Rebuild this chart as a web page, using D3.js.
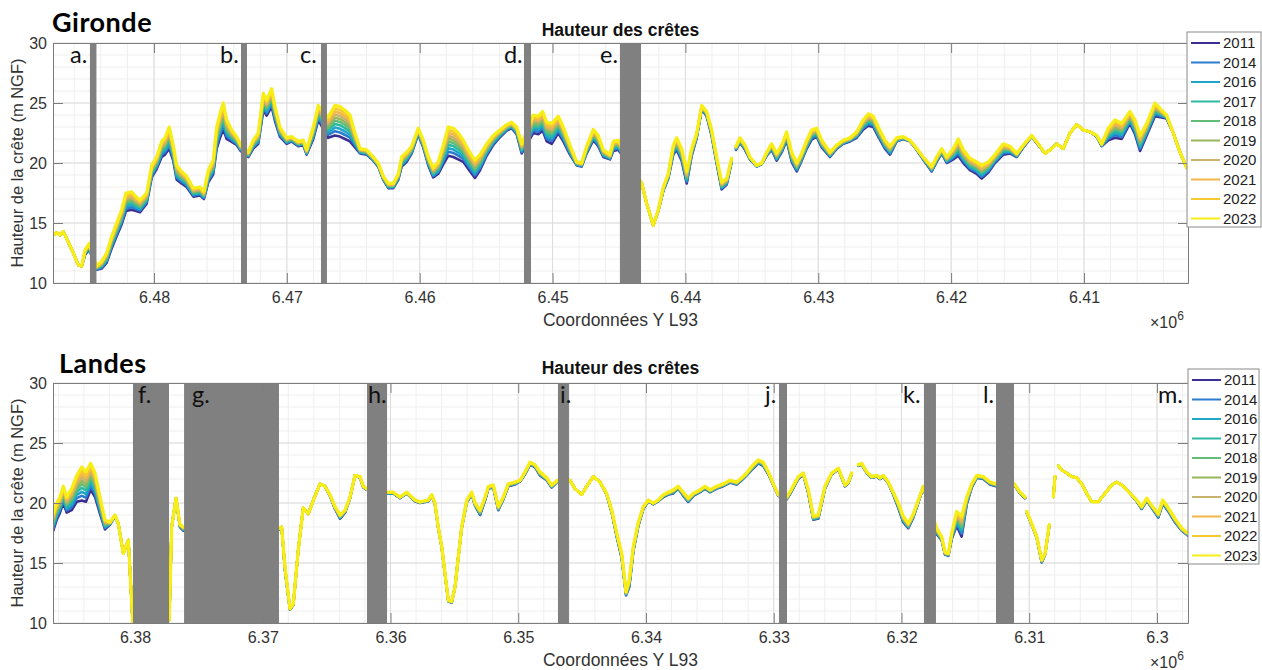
<!DOCTYPE html>
<html>
<head>
<meta charset="utf-8">
<script src="https://cdn.jsdelivr.net/npm/d3@7"></script>
<style>
body { margin: 0; background: #fff; }
svg { display: block; font-family: "Liberation Sans", Arial, sans-serif; }
</style>
</head>
<body>
<svg id="chart" width="1262" height="670"></svg>
<script>
// years shown in the legend, parula-like colours
var years = ["2011","2014","2016","2017","2018","2019","2020","2021","2022","2023"];
var yearColors = ["#3b2f93","#2b7bcf","#1ea6c8","#2cb9a2","#63bd79","#96b65a","#c8b36c","#f2b549","#f6ca2e","#f7ee17"];
// share of the 2011 deficit still present each year (fan spacing)
var yearLag = [1, 0.86, 0.74, 0.62, 0.51, 0.41, 0.31, 0.21, 0.11, 0];

// [Y L93 (km), crest height 2023 (m NGF), deficit of 2011 vs 2023 (m)] ; null = no data
var girondeProfile = [
  [6487.58,14.0,0],[6487.32,14.2,0],[6487.08,14.0,0],[6486.83,14.3,0],[6486.57,13.7,0],
  [6486.07,12.5,0],[6485.70,11.5,0],[6485.44,11.4,0],[6485.19,12.75,0.4],[6484.87,13.3,0.5],
  [6484.31,11.4,0.3],[6483.94,11.8,0.6],[6483.56,12.5,0.8],[6483.18,13.9,1.0],[6482.81,15.0,1.1],
  [6482.43,16.1,1.2],[6482.11,17.5,1.5],[6481.68,17.6,1.5],[6481.35,17.2,1.2],[6481.05,16.9,1.0],
  [6480.55,17.5,0.9],[6480.17,19.8,1.0],[6479.80,20.5,1.0],[6479.42,21.8,1.3],[6479.17,22.1,1.4],
  [6478.85,23.0,1.8],[6478.55,21.5,1.3],[6478.29,19.8,1.2],[6477.92,19.3,1.0],[6477.54,18.9,0.9],
  [6477.04,17.9,0.7],[6476.54,18.0,0.7],[6476.24,17.6,0.6],[6475.91,19.4,1.0],[6475.54,20.25,1.2],
  [6475.28,23.0,1.8],[6475.03,24.1,2.0],[6474.78,25.0,2.2],[6474.53,23.6,1.6],[6474.15,22.75,1.0],
  [6473.78,22.2,0.7],[6473.47,21.5,0.5],
  [6472.90,20.9,0.4],[6472.53,21.9,0.7],[6472.15,22.5,0.9],[6471.77,25.8,1.4],[6471.52,25.25,1.3],
  [6471.14,26.2,1.5],[6470.89,24.7,1.2],[6470.52,23.0,0.8],[6470.01,22.1,0.5],[6469.64,22.2,0.4],
  [6469.14,21.8,0.4],[6468.76,21.9,0.4],[6468.51,21.1,0.4],[6468.01,23.0,1.0],[6467.63,24.8,1.2],
  [6466.90,23.8,1.7],[6466.38,24.8,2.5],[6466.00,24.7,2.5],[6465.62,24.4,2.4],[6465.25,24.0,2.2],
  [6464.87,22.5,1.2],[6464.49,21.2,0.4],[6463.99,21.1,0.4],[6463.49,20.5,0.3],[6463.12,20.0,0.3],
  [6462.74,18.9,0.3],[6462.36,18.3,0.4],[6461.99,18.3,0.4],[6461.61,19.1,0.5],[6461.36,20.5,0.8],
  [6460.98,20.9,0.8],[6460.60,21.4,0.6],[6460.11,22.9,0.5],[6459.73,21.9,0.6],[6459.35,20.5,0.7],
  [6458.98,19.6,0.8],[6458.60,20.1,1.0],[6458.22,21.5,1.6],[6457.85,23.0,2.4],[6457.47,22.9,2.4],
  [6457.10,22.5,2.2],[6456.72,21.9,1.8],[6456.34,21.1,1.6],[6455.84,20.25,1.5],[6455.46,20.7,1.3],
  [6454.96,21.6,1.0],[6454.46,22.3,0.8],[6453.96,22.75,0.6],[6453.45,23.2,0.5],[6453.08,23.4,0.5],
  [6452.70,23.0,0.6],[6452.32,21.6,0.8],
  [6451.45,24.0,1.5],[6451.07,23.9,1.5],[6450.74,24.3,1.6],[6450.44,23.4,1.6],[6450.06,23.3,1.7],
  [6449.57,23.9,1.4],[6449.19,23.0,1.2],[6448.69,21.5,0.8],[6448.18,20.1,0.3],[6447.81,20.0,0.3],
  [6447.43,21.4,0.6],[6446.93,22.8,0.9],[6446.56,22.3,0.9],[6446.18,21.1,0.6],[6445.68,20.7,0.4],
  [6445.43,21.8,0.8],[6445.05,21.9,0.8],
  [6443.29,18.3,0],[6442.91,16.6,0],[6442.42,14.8,0],[6442.04,16.1,0.1],[6441.66,18.0,0.3],
  [6441.29,19.1,0.4],[6440.91,21.5,0.8],[6440.66,22.1,1.0],[6440.28,21.2,1.0],[6439.90,19.3,1.0],
  [6439.53,21.2,0.6],[6439.15,22.5,0.4],[6438.77,24.8,0.3],[6438.40,24.3,0.4],[6438.02,22.75,0.5],
  [6437.65,20.5,0.5],[6437.27,18.4,0.6],[6436.89,18.7,0.5],[6436.52,20.4,0.3],
  null,
  [6436.19,21.4,0.3],[6435.89,22.1,0.4],[6435.51,21.5,0.4],[6435.14,20.5,0.2],[6434.63,19.8,0.1],
  [6434.26,20.0,0.1],[6433.88,20.9,0.3],[6433.51,21.6,0.5],[6433.13,20.8,0.6],[6432.75,21.5,0.6],
  [6432.38,22.6,0.7],[6432.00,20.9,0.8],[6431.62,20.0,0.7],[6431.25,20.8,0.6],[6430.87,21.9,0.7],
  [6430.50,22.75,0.8],[6430.12,22.9,0.7],[6429.74,21.9,0.6],[6429.12,20.9,0.4],[6428.61,21.5,0.3],
  [6428.12,21.9,0.3],[6427.61,22.1,0.3],[6427.11,22.6,0.5],[6426.61,23.6,0.8],[6426.23,24.1,1.0],
  [6425.86,23.9,0.9],[6425.48,23.0,0.8],[6424.98,21.9,0.7],[6424.60,21.4,0.7],[6424.10,22.1,0.3],
  [6423.60,22.2,0.2],[6423.10,21.9,0.1],[6422.72,21.4,0.1],[6422.10,20.5,0.2],[6421.46,19.7,0.4],
  [6421.09,20.5,0.4],[6420.71,21.2,0.4],[6420.33,20.5,0.5],[6419.84,21.2,0.9],[6419.46,22.0,1.4],
  [6419.08,21.1,1.1],[6418.58,20.4,1.0],[6418.08,20.1,1.0],[6417.70,19.8,1.1],[6417.20,20.1,0.9],
  [6416.70,20.7,0.7],[6416.07,21.6,0.9],[6415.57,21.4,0.6],[6415.06,20.8,0.3],[6414.57,21.5,0.2],
  [6413.94,22.3,0.1],[6413.44,21.6,0.1],[6412.93,20.8,0],[6412.43,21.2,0],[6412.06,21.6,0],
  [6411.56,21.2,0],[6411.05,22.5,0],[6410.55,23.2,0],[6410.05,22.75,0],[6409.55,22.6,0],
  [6409.04,22.3,0.1],[6408.67,21.6,0.2],[6408.17,22.9,1.0],[6407.67,23.6,1.5],[6407.16,23.3,1.3],
  [6406.54,24.3,1.0],[6406.16,23.6,1.2],[6405.78,22.3,1.3],[6405.28,23.3,1.0],[6404.66,25.0,1.1],
  [6404.15,24.4,0.6],[6403.78,24.0,0.3],[6403.28,22.5,0],[6402.77,20.9,0],[6402.27,19.6,0]
];

var landesProfile = [
  [6386.40,19.1,1.4],[6386.13,20.0,1.4],[6385.87,20.5,1.3],[6385.61,21.4,1.4],[6385.35,20.5,1.3],
  [6384.96,21.2,1.8],[6384.56,22.3,2.2],[6384.17,23.0,2.8],[6383.84,22.6,2.5],[6383.47,23.3,2.2],
  [6383.13,22.5,2.0],[6382.74,20.5,1.4],[6382.35,18.6,0.8],[6381.96,18.4,0.2],[6381.57,19.0,0.1],
  [6381.31,18.3,0],[6380.92,15.8,0],[6380.52,16.9,0],[6380.18,10.1,0],
  [6377.32,10.25,0],[6377.13,18.0,0],[6376.79,20.4,0],[6376.48,18.2,0.2],[6376.22,18.0,0.3],
  [6368.70,17.9,0.1],[6368.52,18.0,0],[6368.26,14.7,0.3],[6367.87,11.2,0.1],[6367.61,11.6,0.1],
  [6367.22,16.1,0],[6366.83,19.6,0],[6366.43,19.1,0],[6366.04,20.25,0],[6365.52,21.6,0],
  [6365.13,21.4,0],[6364.74,20.7,0.1],[6364.34,19.7,0.2],[6363.95,19.0,0.3],[6363.56,19.4,0.2],
  [6363.17,20.5,0.1],[6362.78,22.3,0],[6362.39,22.2,0.1],[6362.13,21.4,0.1],[6361.86,21.2,0.1],
  [6360.30,20.9,0.1],[6359.78,20.9,0.1],[6359.26,20.5,0.1],[6358.73,20.9,0.1],[6358.08,20.25,0.1],
  [6357.69,20.1,0.1],[6357.04,20.25,0.1],[6356.77,20.7,0.1],[6356.52,20.0,0.1],[6356.26,18.0,0.1],
  [6355.99,16.4,0.1],[6355.73,14.1,0.1],[6355.47,11.9,0.1],[6355.21,11.8,0.1],[6354.95,13.0,0],
  [6354.69,15.5,0],[6354.43,18.0,0.1],[6354.03,20.25,0.2],[6353.64,20.9,0.2],[6353.38,20.0,0.2],
  [6352.99,19.4,0.4],[6352.60,20.5,0.3],[6352.34,21.4,0.2],[6351.95,21.5,0.2],[6351.56,19.7,0.3],
  [6351.17,20.5,0.2],[6350.78,21.6,0.2],[6350.25,21.75,0.2],[6349.86,21.9,0.1],[6349.47,22.6,0.2],
  [6349.08,23.4,0.2],[6348.69,23.2,0.2],[6348.30,22.6,0.3],[6347.77,22.1,0.2],[6347.38,21.5,0.2],
  [6346.91,21.9,0.1],
  [6345.95,21.9,0],[6345.56,21.2,0],[6345.03,20.7,0],[6344.64,21.4,0],[6344.12,22.2,0],
  [6343.60,21.75,0],[6343.08,20.8,0.1],[6342.68,19.4,0.2],[6342.29,17.5,0.3],[6341.90,15.8,0.4],
  [6341.56,12.6,0.3],[6341.31,13.6,0.6],[6340.99,16.4,0.4],[6340.60,18.4,0.3],[6340.21,19.7,0.2],
  [6339.82,20.25,0.1],[6339.43,20.0,0.1],[6339.04,20.25,0.1],[6338.64,20.7,0.2],[6338.25,20.9,0.2],
  [6337.86,21.1,0.3],[6337.47,21.4,0.2],[6337.08,20.9,0.3],[6336.69,20.4,0.3],[6336.30,20.8,0.2],
  [6335.77,21.1,0.2],[6335.38,21.4,0.2],[6334.99,21.1,0.2],[6334.46,21.4,0.2],[6333.95,21.6,0.2],
  [6333.42,21.9,0.2],[6332.90,21.75,0.2],[6332.51,22.1,0.2],[6332.12,22.5,0.2],[6331.60,23.2,0.3],
  [6331.21,23.6,0.3],[6330.82,23.4,0.3],[6330.42,22.6,0.2],[6330.03,21.6,0.1],[6329.64,20.7,0.1],
  [6328.98,20.5,0.2],[6328.59,21.2,0.2],[6328.08,22.2,0.2],[6327.69,22.5,0.1],[6327.29,21.1,0.3],
  [6326.90,18.9,0.3],[6326.51,19.0,0.3],[6325.99,21.4,0.2],[6325.46,22.5,0.1],[6324.94,22.9,0.1],
  [6324.42,21.5,0.1],[6324.16,21.75,0.1],[6323.90,22.5,0.1],
  null,
  [6323.38,23.2,0.1],[6323.11,23.3,0.1],[6322.72,22.6,0.1],[6322.33,22.2,0.1],[6321.94,22.3,0.1],
  [6321.68,22.1,0.1],[6321.42,22.3,0.1],[6321.03,21.75,0.1],[6320.64,20.9,0.2],[6320.25,20.0,0.4],
  [6319.86,18.9,0.5],[6319.47,18.3,0.4],[6319.07,19.1,0.3],[6318.68,20.25,0.2],[6318.29,21.4,0.1],
  [6317.24,17.9,0.5],[6316.85,17.2,0.3],[6316.59,15.9,0.2],[6316.33,15.8,0.2],[6316.07,17.5,0.5],
  [6315.68,19.3,1.2],[6315.29,18.9,1.7],[6314.89,20.5,0.6],[6314.50,21.6,0.3],[6314.11,22.3,0.2],
  [6313.59,22.2,0.2],[6313.07,21.75,0.2],[6312.60,21.6,0.2],
  [6311.17,21.6,0.1],[6310.72,20.9,0.1],[6310.33,20.5,0.1],
  null,
  [6310.20,19.3,0.1],[6309.81,18.3,0.1],[6309.41,17.2,0.1],[6309.02,15.25,0.2],[6308.76,15.8,0.1],
  [6308.43,18.2,0.1],
  null,
  [6308.11,20.5,0],[6307.98,22.2,0],
  null,
  [6307.72,23.1,0],[6307.46,22.75,0],[6307.07,22.5,0],[6306.68,22.2,0],[6306.28,22.1,0],
  [6305.89,21.6,0],[6305.50,20.8,0],[6305.11,20.1,0],[6304.59,20.1,0],[6304.07,20.8,0],
  [6303.54,21.5,0],[6303.15,21.75,0],[6302.63,21.4,0],[6302.11,20.8,0],[6301.59,20.25,0.1],
  [6301.20,19.7,0.2],[6300.80,20.4,0.2],[6300.41,19.8,0.2],[6299.89,19.1,0.3],[6299.55,20.25,0.3],
  [6299.11,19.6,0.3],[6298.59,18.7,0.3],[6298.06,17.9,0.2],[6297.59,17.5,0.2]
];

// masked stretches (start, end in km) and their letters
var girondeMasks = [[6484.82,6484.33],[6473.45,6473.00],[6467.43,6466.98],[6452.15,6451.62],[6444.93,6443.34]];
var girondeLetters = [["a.",6486.32],["b.",6475.03],["c.",6469.01],["d.",6453.66],["e.",6446.43]];
var landesMasks = [[6380.16,6377.34],[6376.16,6368.73],[6361.84,6360.27],[6346.89,6346.03],[6329.59,6328.96],[6318.24,6317.30],[6312.60,6311.19]];
var landesLetters = [["f.",6379.77],["g.",6375.54],["h.",6361.76],["i.",6346.73],["j.",6330.68],["k.",6319.88],["l.",6313.62],["m.",6299.92]];

var girondeTicks = [6480,6470,6460,6450,6440,6430,6420,6410];
var landesTicks = [6380,6370,6360,6350,6340,6330,6320,6310,6300];
var heightTicks = [10,15,20,25,30];

var svg = d3.select("#chart");
var left = 53, plotW = 1135, plotH = 240;

function drawPanel(cfg){
  var top = cfg.top;
  var x = d3.scaleLinear().domain(cfg.domain).range([left, left+plotW]);
  var y = d3.scaleLinear().domain([10,30]).range([top+plotH, top]);
  var g = svg.append("g");

  g.append("clipPath").attr("id","clip"+cfg.id)
    .append("rect").attr("x",left).attr("y",top).attr("width",plotW).attr("height",plotH);

  // minor grid
  var lo = Math.ceil(cfg.domain[1]/2)*2, hi = cfg.domain[0];
  g.selectAll(".vmin").data(d3.range(lo, hi, 2)).enter().append("line")
    .attr("x1",d=>x(d)).attr("x2",d=>x(d)).attr("y1",top).attr("y2",top+plotH)
    .attr("stroke","#efefef").attr("stroke-width",1);
  g.selectAll(".hmin").data(d3.range(11,30)).enter().append("line")
    .attr("x1",left).attr("x2",left+plotW).attr("y1",d=>y(d)).attr("y2",d=>y(d))
    .attr("stroke","#efefef").attr("stroke-width",1);
  // major grid
  g.selectAll(".vmaj").data(cfg.ticks).enter().append("line")
    .attr("x1",d=>x(d)).attr("x2",d=>x(d)).attr("y1",top).attr("y2",top+plotH)
    .attr("stroke","#dcdcdc").attr("stroke-width",1);
  g.selectAll(".hmaj").data(heightTicks).enter().append("line")
    .attr("x1",left).attr("x2",left+plotW).attr("y1",d=>y(d)).attr("y2",d=>y(d))
    .attr("stroke","#dcdcdc").attr("stroke-width",1);

  var line = d3.line()
    .defined(d => d !== null)
    .x(d => x(d[0]))
    .y(d => y(d[1]));

  var lines = g.append("g").attr("clip-path","url(#clip"+cfg.id+")");
  years.forEach(function(yr, k){
    var pts = cfg.profile.map(p => p === null ? null : [p[0], p[1] - p[2]*yearLag[k]]);
    lines.append("path")
      .attr("d", line(pts))
      .attr("fill","none")
      .attr("stroke", yearColors[k])
      .attr("stroke-width", k == years.length-1 ? 3.2 : 2.6)
      .attr("stroke-linejoin","round")
      .attr("stroke-linecap","round");
  });

  // grey masks
  g.selectAll(".mask").data(cfg.masks).enter().append("rect")
    .attr("x", d => x(d[0]))
    .attr("width", d => x(d[1]) - x(d[0]))
    .attr("y", top).attr("height", plotH)
    .attr("fill","#808080");

  g.selectAll(".letter").data(cfg.letters).enter().append("text")
    .attr("x", d => x(d[1]))
    .attr("y", top+20)
    .style("font-family","Lato, 'Open Sans', sans-serif")
    .style("font-size","23.5px")
    .attr("fill","#111")
    .text(d => d[0]);

  // axes, MATLAB-like box with inward ticks
  var fmt = d => String(+(d/1000).toFixed(2));
  var xb = g.append("g").attr("transform","translate(0,"+(top+plotH)+")")
    .call(d3.axisBottom(x).tickValues(cfg.ticks).tickSizeInner(-10).tickSizeOuter(0).tickPadding(9).tickFormat(fmt));
  var xt = g.append("g").attr("transform","translate(0,"+top+")")
    .call(d3.axisTop(x).tickValues(cfg.ticks).tickSizeInner(-10).tickSizeOuter(0).tickFormat(""));
  var yl = g.append("g").attr("transform","translate("+left+",0)")
    .call(d3.axisLeft(y).tickValues(heightTicks).tickSizeInner(-10).tickSizeOuter(0).tickPadding(6));
  var yr = g.append("g").attr("transform","translate("+(left+plotW)+",0)")
    .call(d3.axisRight(y).tickValues(heightTicks).tickSizeInner(-10).tickSizeOuter(0).tickFormat(""));
  [xb,xt,yl,yr].forEach(function(a){
    a.select(".domain").attr("stroke","#7d7d7d");
    a.selectAll(".tick line").attr("stroke","#7d7d7d");
    a.selectAll("text").attr("fill","#333").style("font-size","16px")
      .style("font-family","'Liberation Sans', Arial, sans-serif");
  });

  g.append("text").attr("x", left+plotW/2).attr("y", cfg.titleY)
    .attr("text-anchor","middle").style("font-weight","bold").style("font-size","17.5px")
    .attr("fill","#111").text("Hauteur des crêtes");
  g.append("text").attr("x", cfg.nameX).attr("y", cfg.nameY)
    .style("font-family","Lato, 'Open Sans', sans-serif").style("font-weight","bold")
    .style("font-size","27px").style("letter-spacing","0.5px").attr("fill","#000").text(cfg.name);
  g.append("text").attr("transform","translate(23,"+(top+plotH/2)+") rotate(-90)")
    .attr("text-anchor","middle").style("font-size","16.5px").attr("fill","#333")
    .text("Hauteur de la crête (m NGF)");
  g.append("text").attr("x", left+plotW/2).attr("y", top+plotH+43)
    .attr("text-anchor","middle").style("font-size","17.5px").attr("fill","#333")
    .text("Coordonnées Y L93");
  var ex = g.append("text").attr("x",1150).attr("y", top+plotH+45)
    .style("font-size","16px").attr("fill","#333");
  ex.append("tspan").text("×10");
  ex.append("tspan").attr("dy",-8).style("font-size","12px").text("6");

  // legend
  var lg = g.append("g").attr("transform","translate("+cfg.legX+","+cfg.legY+")");
  lg.append("rect").attr("x",0).attr("y",0).attr("width",cfg.legW).attr("height",195)
    .attr("fill","#fff").attr("stroke","#8a8a8a");
  var item = lg.selectAll(".item").data(years).enter().append("g")
    .attr("transform",(d,i) => "translate(0,"+(11 + i*19.5)+")");
  item.append("line").attr("x1",4).attr("x2",33).attr("y1",0).attr("y2",0)
    .attr("stroke",(d,i) => yearColors[i]).attr("stroke-width",2);
  item.append("text").attr("x",36).attr("y",0).attr("dy","0.36em")
    .style("font-size","15px").attr("fill","#222").text(d => d);
}

drawPanel({id:"g", top:43, domain:[6487.6,6402.17], ticks:girondeTicks, profile:girondeProfile,
  masks:girondeMasks, letters:girondeLetters, name:"Gironde", nameX:52, nameY:32, titleY:36,
  legX:1187, legY:32, legW:74});
drawPanel({id:"l", top:383, domain:[6386.42,6297.57], ticks:landesTicks, profile:landesProfile,
  masks:landesMasks, letters:landesLetters, name:"Landes", nameX:59, nameY:373, titleY:374,
  legX:1188, legY:369, legW:71});
</script>
</body>
</html>
